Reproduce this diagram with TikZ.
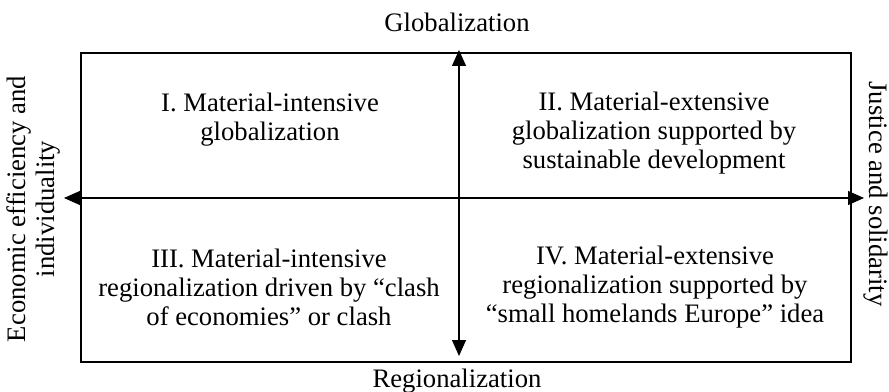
\documentclass[tikz,border=0pt]{standalone}
\usepackage{fontspec}
\setmainfont{Liberation Serif}
\usepackage{tikz}
\usetikzlibrary{arrows.meta}

\begin{document}
\begin{tikzpicture}[x=0.75pt,y=-0.75pt,
        quadtext/.style={align=center,font=\fontsize{20}{21.75}\selectfont},
        axislabel/.style={align=center,font=\fontsize{20}{21.75}\selectfont},
        axisline/.style={line width=0.8pt,{Triangle[length=12pt,width=10.5pt]}-{Triangle[length=12pt,width=10.5pt]}}]
        \useasboundingbox (0,0) rectangle (889,392);
        % outer frame
        \draw[line width=1.6pt] (81,53) rectangle (851,362);
        % axis ends
        \coordinate (gtip) at (459,50);
        \coordinate (rtip) at (459,356);
        \coordinate (etip) at (64,198);
        \coordinate (jtip) at (864,198);
        \draw[axisline] (rtip) -- (gtip);
        \draw[axisline] (etip) -- (jtip);
        % axis labels
        \node[axislabel] (glob) at (457,22) {Globalization};
        \node[axislabel] (regio) at (457,381) {Regionalization};
        \node[axislabel,rotate=90] (econ) at (33,209) {Economic efficiency and\\individuality};
        \node[axislabel,rotate=-90] (just) at (876,194) {Justice and solidarity};
        % quadrants
        \node[quadtext] (q1) at (270,120) {I. Material-intensive\\globalization};
        \node[quadtext] (q2) at (654,133) {II. Material-extensive\\globalization supported by\\sustainable development};
        \node[quadtext] (q3) at (269,287) {III. Material-intensive\\regionalization driven by “clash\\of economies” or clash};
        \node[quadtext] (q4) at (655,287) {IV. Material-extensive\\regionalization supported by\\“small homelands Europe” idea};
    \end{tikzpicture}
\end{document}
